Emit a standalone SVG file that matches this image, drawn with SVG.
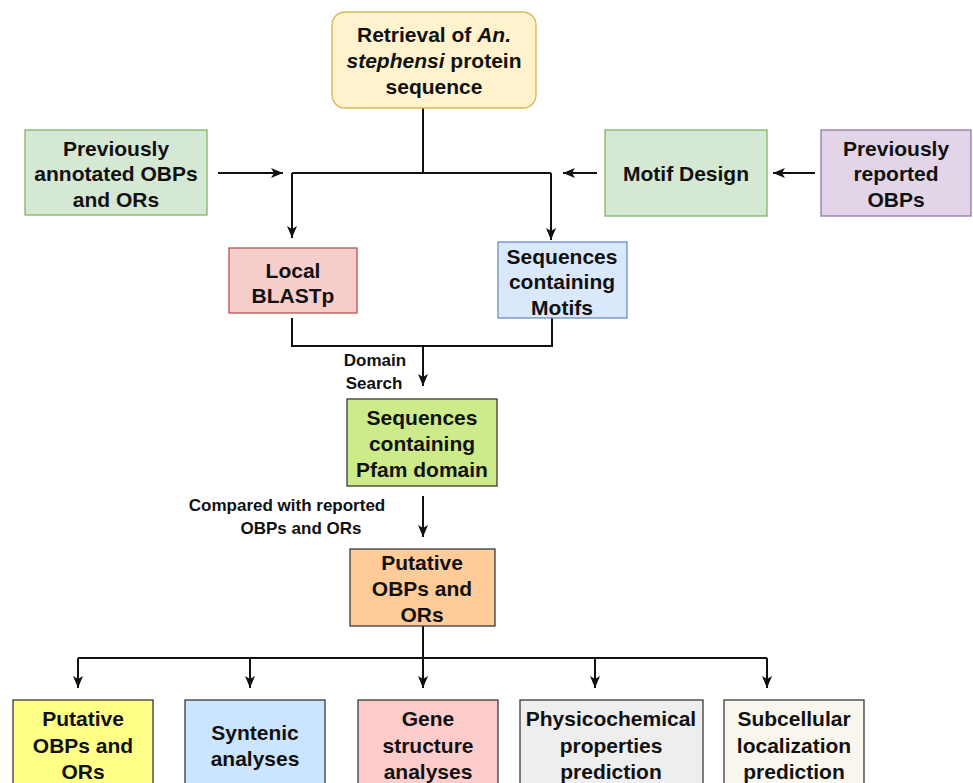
<svg xmlns="http://www.w3.org/2000/svg" width="973" height="783" viewBox="0 0 973 783">
<style>
text{font-family:"Liberation Sans",Arial,Helvetica,sans-serif;font-weight:bold;font-size:21px;fill:#111;text-anchor:middle}
.lbl{font-size:17px}
.box{stroke-width:1.3}
.c{fill:none;stroke:#111;stroke-width:2}
</style>
<defs>
<marker id="ah" viewBox="0 0 12 12" refX="12" refY="6" markerWidth="12" markerHeight="12" markerUnits="userSpaceOnUse" orient="auto">
<path d="M0,1 L12,6 L0,11 L3,6 z" fill="#111"/>
</marker>
</defs>
<rect width="973" height="783" fill="#fff"/>
<g id="connectors">
<path class="c" d="M423,108 V173"/>
<path class="c" d="M292,173 H551"/>
<path class="c" d="M292,173 V238" marker-end="url(#ah)"/>
<path class="c" d="M551,173 V240" marker-end="url(#ah)"/>
<path class="c" d="M218,173 H283" marker-end="url(#ah)"/>
<path class="c" d="M597,173 H563" marker-end="url(#ah)"/>
<path class="c" d="M815,173 H773" marker-end="url(#ah)"/>
<path class="c" d="M292,318 V346 H552 V318"/>
<path class="c" d="M423,346 V386" marker-end="url(#ah)"/>
<path class="c" d="M423,496 V537" marker-end="url(#ah)"/>
<path class="c" d="M423,626 V658"/>
<path class="c" d="M78,658 H767"/>
<path class="c" d="M78,658 V688" marker-end="url(#ah)"/>
<path class="c" d="M250,658 V688" marker-end="url(#ah)"/>
<path class="c" d="M423,658 V688" marker-end="url(#ah)"/>
<path class="c" d="M595,658 V688" marker-end="url(#ah)"/>
<path class="c" d="M767,658 V688" marker-end="url(#ah)"/>
<text class="lbl" x="375" y="366">Domain</text>
<text class="lbl" x="374" y="389">Search</text>
<text class="lbl" x="287" y="511">Compared with reported</text>
<text class="lbl" x="301" y="534">OBPs and ORs</text>
</g>
<g id="retrieval">
<rect class="box" x="332" y="12" width="204" height="96" rx="13" fill="#fff2cc" stroke="#d6b656"/>
<text x="434" y="42">Retrieval of <tspan font-style="italic">An.</tspan></text>
<text x="434" y="68"><tspan font-style="italic">stephensi</tspan> protein</text>
<text x="434" y="94">sequence</text>
</g>
<g id="prev-annotated">
<rect class="box" x="25" y="130" width="182" height="85" fill="#d5e8d4" stroke="#82b366"/>
<text x="116" y="156">Previously</text>
<text x="116" y="181">annotated OBPs</text>
<text x="116" y="207">and ORs</text>
</g>
<g id="motif-design">
<rect class="box" x="605" y="130" width="162" height="86" fill="#d5e8d4" stroke="#82b366"/>
<text x="686" y="181">Motif Design</text>
</g>
<g id="prev-reported">
<rect class="box" x="821" y="130" width="150" height="86" fill="#e1d5e7" stroke="#9673a6"/>
<text x="896" y="156">Previously</text>
<text x="896" y="181">reported</text>
<text x="896" y="207">OBPs</text>
</g>
<g id="local-blastp">
<rect class="box" x="229" y="248" width="128" height="65" fill="#f8cecc" stroke="#b85450"/>
<text x="293" y="278">Local</text>
<text x="293" y="303">BLASTp</text>
</g>
<g id="seq-motifs">
<rect class="box" x="498" y="242" width="129" height="76" fill="#dae8fc" stroke="#6c8ebf"/>
<text x="562" y="264">Sequences</text>
<text x="562" y="289">containing</text>
<text x="562" y="315">Motifs</text>
</g>
<g id="seq-pfam">
<rect class="box" x="347" y="399" width="150" height="87" fill="#cdeb8b" stroke="#36393d"/>
<text x="422" y="425">Sequences</text>
<text x="422" y="451">containing</text>
<text x="422" y="477">Pfam domain</text>
</g>
<g id="putative">
<rect class="box" x="350" y="549" width="145" height="77" fill="#ffcc99" stroke="#36393d"/>
<text x="422" y="570">Putative</text>
<text x="422" y="596">OBPs and</text>
<text x="422" y="622">ORs</text>
</g>
<g id="putative-final">
<rect class="box" x="13" y="700" width="140" height="90" fill="#ffff88" stroke="#36393d"/>
<text x="83" y="726">Putative</text>
<text x="83" y="753">OBPs and</text>
<text x="83" y="779">ORs</text>
</g>
<g id="syntenic">
<rect class="box" x="185" y="700" width="140" height="90" fill="#cce5ff" stroke="#36393d"/>
<text x="255" y="740">Syntenic</text>
<text x="255" y="766">analyses</text>
</g>
<g id="gene-structure">
<rect class="box" x="358" y="700" width="140" height="90" fill="#ffcccc" stroke="#36393d"/>
<text x="428" y="726">Gene</text>
<text x="428" y="753">structure</text>
<text x="428" y="779">analyses</text>
</g>
<g id="physicochemical">
<rect class="box" x="520" y="700" width="183" height="90" fill="#eeeeee" stroke="#36393d"/>
<text x="611" y="726">Physicochemical</text>
<text x="611" y="753">properties</text>
<text x="611" y="779">prediction</text>
</g>
<g id="subcellular">
<rect class="box" x="724" y="700" width="140" height="90" fill="#f9f7ed" stroke="#36393d"/>
<text x="794" y="726">Subcellular</text>
<text x="794" y="753">localization</text>
<text x="794" y="779">prediction</text>
</g>
</svg>
